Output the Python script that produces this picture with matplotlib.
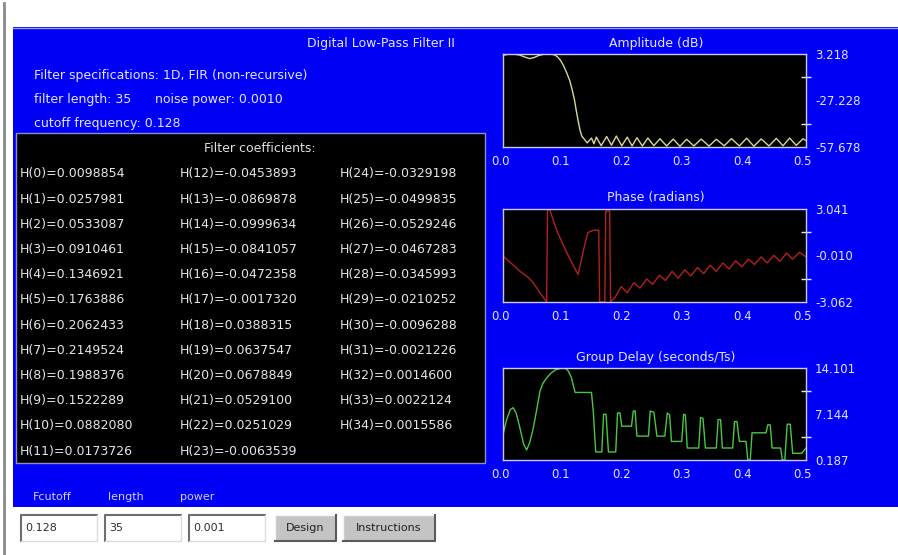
import matplotlib
matplotlib.use("Agg")
import matplotlib.pyplot as plt
from matplotlib.patches import Rectangle
from matplotlib.transforms import ScaledTranslation

W, H = 898, 555

# filter design parameters
cutoff = 0.128
length = 35
power = 0.001

# FIR coefficients H(0) .. H(34)
coef = [0.0098854, 0.0257981, 0.0533087, 0.0910461, 0.1346921, 0.1763886,
        0.2062433, 0.2149524, 0.1988376, 0.1522289, 0.0882080, 0.0173726,
        -0.0453893, -0.0869878, -0.0999634, -0.0841057, -0.0472358, -0.0017320,
        0.0388315, 0.0637547, 0.0678849, 0.0529100, 0.0251029, -0.0063539,
        -0.0329198, -0.0499835, -0.0529246, -0.0467283, -0.0345993, -0.0210252,
        -0.0096288, -0.0021226, 0.0014600, 0.0022124, 0.0015586]

# amplitude response (dB)
amp_f = [0.000, 0.008, 0.017, 0.027, 0.036, 0.044, 0.052, 0.060, 0.068, 0.077,
         0.084, 0.090, 0.095, 0.100, 0.105, 0.110, 0.114, 0.118, 0.121, 0.124,
         0.127, 0.130, 0.134, 0.139, 0.146, 0.150, 0.154, 0.162, 0.171, 0.179,
         0.187, 0.196, 0.205, 0.213, 0.221, 0.230, 0.239, 0.249, 0.259, 0.270,
         0.281, 0.292, 0.303, 0.315, 0.327, 0.340, 0.352, 0.365, 0.377, 0.390,
         0.402, 0.414, 0.426, 0.439, 0.451, 0.462, 0.473, 0.484, 0.495, 0.500]
amp_db = [2.4, 3.0, 3.2, 2.6, 1.2, 0.2, 1.0, 2.4, 3.1, 3.2,
          2.8, 1.4, -1.0, -4.5, -9.0, -14.0, -20.0, -27.0, -34.0, -40.5,
          -46.5, -50.5, -52.5, -55.0, -51.8, -55.6, -51.2, -56.8, -50.8, -56.5,
          -50.5, -56.9, -51.2, -57.0, -51.6, -57.0, -51.8, -56.8, -52.3, -57.0,
          -52.5, -57.2, -52.6, -57.0, -52.5, -57.1, -52.6, -56.9, -52.2, -57.0,
          -51.9, -57.2, -52.4, -57.0, -52.0, -56.9, -51.8, -56.6, -52.3, -53.5]
amp_lim = (-57.678, 3.218)
amp_labels = ["-57.678", "-27.228", "3.218"]

# phase response (radians)
ph_f = [0.000, 0.010, 0.020, 0.028, 0.040, 0.050, 0.060, 0.072, 0.0735, 0.077,
        0.090, 0.105, 0.115, 0.124, 0.132, 0.140, 0.150, 0.158, 0.1595, 0.168,
        0.1695, 0.176, 0.1775, 0.185,
        0.195, 0.205, 0.216, 0.226, 0.237, 0.247, 0.258, 0.268, 0.279, 0.289,
        0.300, 0.310, 0.321, 0.331, 0.342, 0.352, 0.363, 0.373, 0.384, 0.394,
        0.405, 0.415, 0.426, 0.436, 0.447, 0.457, 0.468, 0.478, 0.489, 0.500]
ph_rad = [-0.05, -0.40, -0.75, -1.05, -1.40, -1.80, -2.40, -3.06, 3.04, 3.00,
          1.50, 0.20, -0.60, -1.26, 0.20, 1.50, 1.65, 1.65, -3.06, -3.06,
          2.90, 2.90, -3.06, -2.75,
          -2.05, -2.45, -1.80, -2.15, -1.55, -1.90, -1.30, -1.65, -1.05, -1.50,
          -0.95, -1.35, -0.80, -1.20, -0.65, -1.05, -0.50, -0.90, -0.35, -0.75,
          -0.25, -0.60, -0.10, -0.50, 0.00, -0.40, 0.15, -0.25, 0.20, -0.10]
ph_lim = (-3.062, 3.041)
ph_labels = ["-3.062", "-0.010", "3.041"]

# group delay (samples)
gd_f = [0.000, 0.006, 0.012, 0.017, 0.022, 0.028, 0.034, 0.039, 0.044, 0.050,
        0.056, 0.061, 0.066, 0.072, 0.079, 0.086, 0.097, 0.104, 0.108, 0.113,
        0.119, 0.146, 0.149, 0.153, 0.163, 0.166, 0.170, 0.174, 0.186, 0.189,
        0.193, 0.196, 0.212, 0.215, 0.218, 0.221, 0.240, 0.243, 0.249, 0.254,
        0.267, 0.271, 0.275, 0.278, 0.295, 0.298, 0.301, 0.304, 0.323, 0.326,
        0.330, 0.334, 0.352, 0.355, 0.359, 0.362, 0.379, 0.382, 0.386, 0.390,
        0.401, 0.404, 0.408, 0.411, 0.434, 0.437, 0.441, 0.444, 0.458, 0.461,
        0.465, 0.469, 0.474, 0.478, 0.493, 0.500]
gd_val = [4.0, 6.3, 7.8, 8.1, 7.2, 5.0, 2.6, 1.7, 2.8, 5.0,
          8.0, 10.6, 11.8, 12.6, 13.3, 13.8, 14.1, 14.0, 13.6, 12.6,
          10.4, 10.4, 7.5, 1.4, 1.4, 7.1, 7.1, 1.4, 1.4, 7.3,
          7.3, 5.3, 5.3, 7.6, 7.6, 3.8, 3.8, 7.6, 7.4, 3.8,
          3.8, 7.3, 7.0, 3.0, 3.0, 7.1, 7.0, 2.0, 2.0, 6.6,
          6.5, 2.0, 2.0, 6.3, 6.3, 2.0, 2.0, 6.0, 6.0, 3.0,
          3.0, 0.2, 0.2, 4.3, 4.3, 5.5, 5.5, 2.0, 2.0, 0.2,
          0.2, 5.6, 5.6, 1.2, 1.2, 2.0]
gd_lim = (0.187, 14.101)
gd_labels = ["0.187", "7.144", "14.101"]

blue = "#0000f6"
light = "#e4e4ff"
edge = "#c8c8ff"

fig = plt.figure(figsize=(W / 100, H / 100), dpi=100)
fig.patch.set_facecolor("white")
bg = fig.add_axes([0, 0, 1, 1])
bg.set_xlim(0, W)
bg.set_ylim(H, 0)
bg.axis("off")

# page border and applet panel
bg.plot([3.5, 3.5], [3, H], color="#8a8a8a", lw=2)
bg.add_patch(Rectangle((13, 27), W - 13, 480, fc=blue, ec="none"))
bg.plot([13, W], [27.5, 27.5], color="#9a9aff", lw=1)

bg.text(381, 43, "Digital Low-Pass Filter II", color=light, fontsize=9,
        ha="center", va="center")
bg.text(34, 75, "Filter specifications: 1D, FIR (non-recursive)", color=light,
        fontsize=9, va="center")
bg.text(34, 99, f"filter length: {length}", color=light, fontsize=9, va="center")
bg.text(155, 99, f"noise power: {power:.4f}", color=light, fontsize=9, va="center")
bg.text(34, 123, f"cutoff frequency: {cutoff}", color=light, fontsize=9, va="center")

# coefficient listing
bg.add_patch(Rectangle((16, 133), 469, 330, fc="black", ec="#8c8cc8", lw=1))
bg.text(260, 148, "Filter coefficients:", color="#e0e0e0", fontsize=9,
        ha="center", va="center")
for i, c in enumerate(coef):
    col, row = divmod(i, 12)
    bg.text(20 + 160 * col, 174 + 25.2 * row, f"H({i})={c:.7f}",
            color="#e6e6e6", fontsize=9, va="center")

# input controls
for x, s in zip([33, 108, 180], ["Fcutoff", "length", "power"]):
    bg.text(x, 497, s, color="#d0d0ff", fontsize=8, va="center")


def sunken(x0, y0, w, h, label):
    bg.add_patch(Rectangle((x0, y0), w, h, fc="white", ec="none"))
    bg.plot([x0, x0, x0 + w], [y0 + h, y0, y0], color="#6e6e6e", lw=1.5)
    bg.plot([x0, x0 + w, x0 + w], [y0 + h, y0 + h, y0], color="#dcdcdc", lw=1)
    bg.text(x0 + 4, y0 + h / 2, label, color="#303030", fontsize=8, va="center")


def button(x0, y0, w, h, label):
    bg.add_patch(Rectangle((x0, y0), w, h, fc="#c4c4c4", ec="none"))
    bg.plot([x0, x0, x0 + w], [y0 + h, y0, y0], color="#f4f4f4", lw=1)
    bg.plot([x0, x0 + w, x0 + w], [y0 + h, y0 + h, y0], color="#5a5a5a", lw=1.5)
    bg.text(x0 + w / 2, y0 + h / 2, label, color="#202020", fontsize=8,
            ha="center", va="center")


sunken(21, 515, 76, 26, f"{cutoff}")
sunken(105, 515, 76, 26, f"{length}")
sunken(189, 515, 76, 26, f"{power}")
button(275, 515, 61, 26, "Design")
button(343, 515, 92, 26, "Instructions")

shift_left = ScaledTranslation(-0.03, 0, fig.dpi_scale_trans)


def response_plot(y0, y1, title, f, v, lim, labels, color):
    x0, x1 = 503, 806
    ax = fig.add_axes([x0 / W, 1 - y1 / H, (x1 - x0) / W, (y1 - y0) / H])
    ax.set_facecolor("black")
    ax.plot(f, v, color=color, lw=1.0)
    ax.set_xlim(0, 0.5)
    lo, hi = lim
    ax.set_ylim(lo, hi)
    ax.set_xticks([0, 0.1, 0.2, 0.3, 0.4, 0.5],
                  labels=["0.0", "0.1", "0.2", "0.3", "0.4", "0.5"])
    ax.set_xticks([0.1, 0.2, 0.3, 0.4], minor=True)
    ax.yaxis.tick_right()
    ax.set_yticks([lo, (lo + hi) / 2, hi], labels=labels)
    q = (hi - lo) / 4
    ax.set_yticks([lo + q, lo + 2 * q, lo + 3 * q], minor=True)
    ax.tick_params(which="major", length=0, labelcolor=light, labelsize=8.5)
    ax.tick_params(axis="x", which="major", pad=6)
    ax.tick_params(axis="y", which="major", pad=6.5)
    ax.tick_params(which="minor", length=7.2, width=1, direction="inout",
                   color=light, labelright=False, labelbottom=False)
    for lab in ax.get_xticklabels():
        lab.set_transform(lab.get_transform() + shift_left)
    for s in ax.spines.values():
        s.set_color(edge)
        s.set_linewidth(1)
    bg.text(656, y0 - 11, title, color=light, fontsize=9, ha="center", va="center")


response_plot(54, 147, "Amplitude (dB)", amp_f, amp_db, amp_lim, amp_labels, "#d8d890")
response_plot(209, 302, "Phase (radians)", ph_f, ph_rad, ph_lim, ph_labels, "#b42020")
response_plot(368, 460, "Group Delay (seconds/Ts)", gd_f, gd_val, gd_lim, gd_labels, "#48c840")

fig.savefig("out.png", dpi=100)
